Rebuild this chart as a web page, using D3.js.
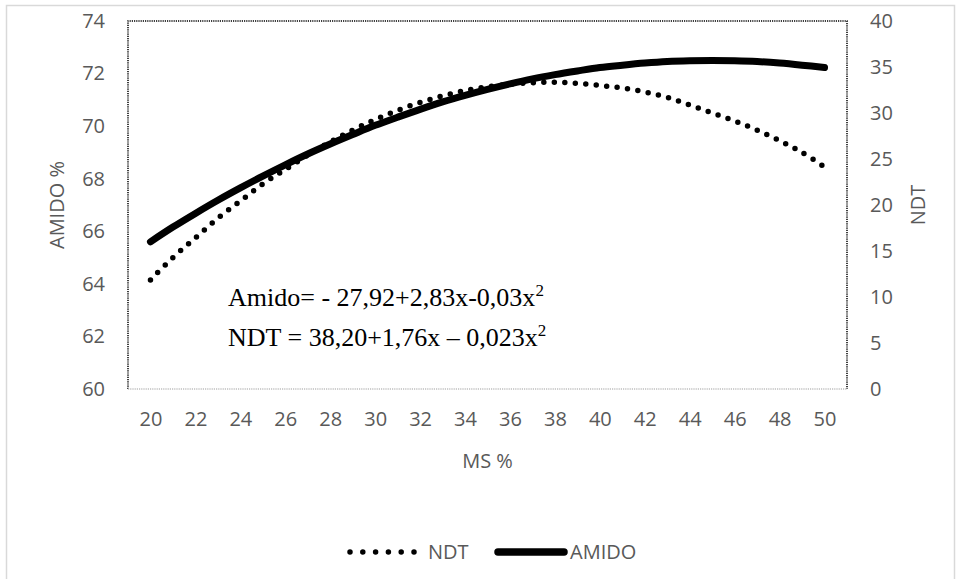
<!DOCTYPE html>
<html>
<head>
<meta charset="utf-8">
<script src="https://cdn.jsdelivr.net/npm/d3@7"></script>
<style>
  body { margin: 0; background: #fff; }
  svg text { font-family: "Open Sans", "Noto Sans", sans-serif; }
</style>
</head>
<body>
<div id="chart"></div>
<script>
const width = 956;
const height = 579;

// MS % values (x)
const msValues = [20, 21, 22, 23, 24, 25, 26, 27, 28, 29, 30, 31, 32, 33, 34, 35,
  36, 37, 38, 39, 40, 41, 42, 43, 44, 45, 46, 47, 48, 49, 50];
// AMIDO % (left axis)
const amidoValues = [65.6, 66.16, 66.68, 67.18, 67.65, 68.1, 68.53, 68.94, 69.32, 69.68,
  70.03, 70.34, 70.64, 70.92, 71.17, 71.4, 71.61, 71.8, 71.96, 72.1, 72.23, 72.32,
  72.4, 72.46, 72.49, 72.5, 72.49, 72.46, 72.4, 72.32, 72.23];
// NDT (right axis)
const ndtValues = [11.86, 14.29, 16.43, 18.57, 20.43, 22.29, 23.86, 25.43, 26.86, 28.14,
  29.29, 30.29, 31.14, 31.86, 32.43, 32.86, 33.14, 33.29, 33.34, 33.23, 33.0, 32.71,
  32.29, 31.71, 30.86, 30.0, 29.14, 28.14, 27.0, 25.71, 24.14];

const xTicks = [20, 22, 24, 26, 28, 30, 32, 34, 36, 38, 40, 42, 44, 46, 48, 50];
const leftTicks = [60, 62, 64, 66, 68, 70, 72, 74];
const rightTicks = [0, 5, 10, 15, 20, 25, 30, 35, 40];

const plot = { left: 128, top: 21, right: 847, bottom: 389 };
const textColor = "#595959";
const fontSize = 20;

const svg = d3.select("#chart")
  .append("svg")
  .attr("width", width)
  .attr("height", height);

// outer chart frame (cropped at the bottom)
svg.append("rect")
  .attr("x", 6.5).attr("y", 5.5)
  .attr("width", 948).attr("height", 620)
  .attr("fill", "#fff")
  .attr("stroke", "#d9d9d9")
  .attr("stroke-width", 1.5);

const x = d3.scaleLinear().domain([19, 51]).range([plot.left, plot.right]);
const yLeft = d3.scaleLinear().domain([60, 74]).range([plot.bottom, plot.top]);
const yRight = d3.scaleLinear().domain([0, 40]).range([plot.bottom, plot.top]);

// plot area border: dotted black on left/top/right, grey along bottom
svg.append("path")
  .attr("d", `M${plot.left},${plot.bottom}V${plot.top}H${plot.right}V${plot.bottom}`)
  .attr("fill", "none")
  .attr("stroke", "#000")
  .attr("stroke-width", 1.5)
  .attr("stroke-dasharray", "1.2,1");
svg.append("line")
  .attr("x1", plot.left).attr("x2", plot.right)
  .attr("y1", plot.bottom).attr("y2", plot.bottom)
  .attr("stroke", "#bfbfbf")
  .attr("stroke-width", 1.5)
  .attr("stroke-dasharray", "1.2,1");

// axes (labels only)
function styleAxis(g) {
  g.select(".domain").remove();
  g.selectAll(".tick line").remove();
  g.selectAll("text")
    .attr("fill", textColor)
    .style("font-size", fontSize + "px")
    .style("font-family", '"Open Sans", sans-serif');
}

svg.append("g")
  .attr("transform", `translate(${plot.left},0)`)
  .call(d3.axisLeft(yLeft).tickValues(leftTicks).tickSize(0).tickPadding(23))
  .call(styleAxis);

svg.append("g")
  .attr("transform", `translate(${plot.right},0)`)
  .call(d3.axisRight(yRight).tickValues(rightTicks).tickSize(0).tickPadding(23))
  .call(styleAxis);

svg.append("g")
  .attr("transform", `translate(0,${plot.bottom})`)
  .call(d3.axisBottom(x).tickValues(xTicks).tickSize(0).tickPadding(23))
  .call(styleAxis);

// axis titles
svg.append("text")
  .attr("transform", `translate(64,${(plot.top + plot.bottom) / 2}) rotate(-90)`)
  .attr("text-anchor", "middle")
  .attr("fill", textColor)
  .style("font-size", fontSize + "px")
  .text("AMIDO %");

svg.append("text")
  .attr("transform", `translate(925,${(plot.top + plot.bottom) / 2}) rotate(-90)`)
  .attr("text-anchor", "middle")
  .attr("fill", textColor)
  .style("font-size", fontSize + "px")
  .text("NDT");

svg.append("text")
  .attr("x", (plot.left + plot.right) / 2)
  .attr("y", 468)
  .attr("text-anchor", "middle")
  .attr("fill", textColor)
  .style("font-size", fontSize + "px")
  .text("MS %");

// series
const ndtLine = d3.line()
  .x((d, i) => x(msValues[i]))
  .y((d) => yRight(d))
  .curve(d3.curveCatmullRom);

const amidoLine = d3.line()
  .x((d, i) => x(msValues[i]))
  .y((d) => yLeft(d))
  .curve(d3.curveCatmullRom);

svg.append("path")
  .datum(ndtValues)
  .attr("d", ndtLine)
  .attr("fill", "none")
  .attr("stroke", "#000")
  .attr("stroke-width", 5.5)
  .attr("stroke-linecap", "round")
  .attr("stroke-dasharray", "0,10.5");

svg.append("path")
  .datum(amidoValues)
  .attr("d", amidoLine)
  .attr("fill", "none")
  .attr("stroke", "#000")
  .attr("stroke-width", 7)
  .attr("stroke-linecap", "round");

// regression equations (serif, as in the original)
const eq = svg.append("g")
  .attr("fill", "#000");

const eq1 = eq.append("text").attr("x", 228).attr("y", 306)
  .style("font-family", '"Liberation Serif", "Times New Roman", serif')
  .style("font-size", "26px");
eq1.append("tspan").text("Amido= - 27,92+2,83x-0,03x");
eq1.append("tspan").attr("dy", -10).style("font-size", "17px").text("2");

const eq2 = eq.append("text").attr("x", 228).attr("y", 346)
  .style("font-family", '"Liberation Serif", "Times New Roman", serif')
  .style("font-size", "26px");
eq2.append("tspan").text("NDT = 38,20+1,76x \u2013 0,023x");
eq2.append("tspan").attr("dy", -10).style("font-size", "17px").text("2");

// legend
const legendY = 552;
svg.append("line")
  .attr("x1", 350).attr("x2", 416)
  .attr("y1", legendY).attr("y2", legendY)
  .attr("stroke", "#000")
  .attr("stroke-width", 5.5)
  .attr("stroke-linecap", "round")
  .attr("stroke-dasharray", "0,12.8");
svg.append("text")
  .attr("x", 428).attr("y", legendY + 7)
  .attr("fill", textColor)
  .style("font-size", fontSize + "px")
  .text("NDT");

svg.append("line")
  .attr("x1", 498).attr("x2", 564)
  .attr("y1", legendY).attr("y2", legendY)
  .attr("stroke", "#000")
  .attr("stroke-width", 7.5)
  .attr("stroke-linecap", "round");
svg.append("text")
  .attr("x", 570).attr("y", legendY + 7)
  .attr("fill", textColor)
  .style("font-size", fontSize + "px")
  .text("AMIDO");
</script>
</body>
</html>
